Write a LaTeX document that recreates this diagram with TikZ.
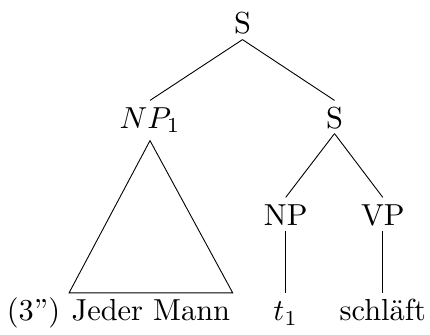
\documentclass[tikz,border=0pt]{standalone}
\begin{document}
\begin{tikzpicture}[x=1pt,y=-1pt,
  lab/.style={anchor=base,inner sep=0pt,text height=8.88pt,text depth=1.645pt,scale=3.04},
  edge/.style={line width=0.9pt}]
\useasboundingbox (0,0) rectangle (430,334);
\node[lab] (s) at (242.5,34) {S};
\node[lab,text depth=3.95pt] (np1) at (150,128) {$NP_1$};
\node[lab] (s2) at (334.5,128) {S};
\node[lab] (np) at (285.7,225) {NP};
\node[lab] (vp) at (382.8,225) {VP};
\node[lab,inner xsep=0.66pt] (jm) at (150.9,320.5) {Jeder Mann};
\node[lab] (t1) at (285.7,320.5) {$t_1$};
\node[lab] (sch) at (382.8,320.5) {schläft};
\node[lab] (ex) at (33.5,320.5) {(3'')};
\draw[edge] (s.south) -- (np1.north);
\draw[edge] (s.south) -- (s2.north);
\draw[edge] (s2.south) -- (np.north);
\draw[edge] (s2.south) -- (vp.north);
\draw[edge] (np.south) -- (t1.north);
\draw[edge] (vp.south) -- (sch.north);
\draw[edge,line join=miter] (np1.south) -- (jm.north east) -- (jm.north west) -- cycle;
\end{tikzpicture}
\end{document}
